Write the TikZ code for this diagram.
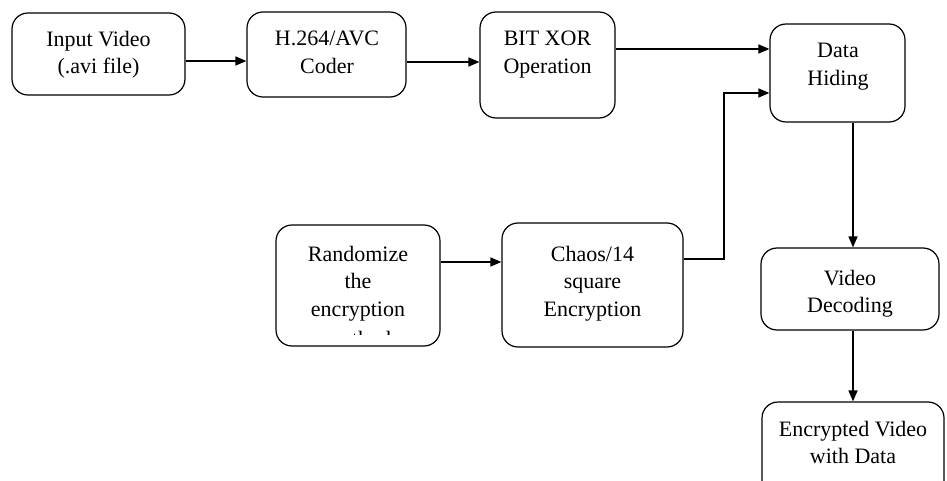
\documentclass[tikz,border=0pt]{standalone}
\usepackage{fontspec}
\setmainfont{Liberation Serif}
\usetikzlibrary{arrows.meta}
\begin{document}
\begin{tikzpicture}[x=1pt,y=-1pt,
  box/.style={draw, line width=1.2pt, rounded corners=16pt, inner sep=0pt},
  lbl/.style={anchor=north, align=center, inner sep=0pt, font=\fontsize{22}{27.5}\selectfont},
  conn/.style={line width=1.6pt, -{Triangle[length=11pt,width=9pt]}}]
\clip (0,0) rectangle (947,481);
\useasboundingbox (0,0) rectangle (947,481);
\fill[white] (0,0) rectangle (947,481);
% boxes
\node[box, minimum width=173pt, minimum height=82pt] (b1) at (98.5,54) {};
\node[box, minimum width=159pt, minimum height=85pt] (b2) at (326.5,54.5) {};
\node[box, minimum width=135pt, minimum height=106pt] (b3) at (547.5,65) {};
\node[box, minimum width=135pt, minimum height=98pt] (b4) at (837.5,73) {};
\node[box, minimum width=164pt, minimum height=121pt] (b5) at (358,285.5) {};
\node[box, minimum width=181pt, minimum height=124pt] (b6) at (592.5,285) {};
\node[box, minimum width=178pt, minimum height=82pt] (b7) at (850,289) {};
\node[box, minimum width=182pt, minimum height=98pt] (b8) at (853,451) {};
% labels
\node[lbl] (t1) at (98.5,31) {Input Video\\(.avi file)};
\node[lbl] (t2) at (327,31) {H.264/AVC\\Coder};
\node[lbl] (t3) at (547.5,31) {BIT XOR\\Operation};
\node[lbl] (t4) at (838,43) {Data\\Hiding};
\node[lbl] (t5) at (358,246) {Randomize\\the\\encryption};
\begin{scope}
  \clip (290,320) rectangle (430,334.5);
  \node[lbl] (t5b) at (358,331.5) {method};
\end{scope}
\node[lbl] (t6) at (592.5,246) {Chaos/14\\square\\Encryption};
\node[lbl] (t7) at (850,270) {Video\\Decoding};
\node[lbl] (t8) at (853,421) {Encrypted Video\\with Data};
% connectors
\coordinate (a1) at ([yshift=-7pt]b1.east);
\draw[conn] (a1) -- (a1 -| b2.west);
\coordinate (a2) at ([yshift=-7.5pt]b2.east);
\draw[conn] (a2) -- (a2 -| b3.west);
\coordinate (a3) at ([yshift=16pt]b3.east);
\draw[conn] (a3) -- (a3 -| b4.west);
\coordinate (a5) at ([yshift=23.5pt]b5.east);
\draw[conn] (a5) -- (a5 -| b6.west);
\coordinate (a6) at ([yshift=26pt]b6.east);
\coordinate (k6) at (724,93);
\draw[conn] (a6) -| (k6) -- (k6 -| b4.west);
\coordinate (a4) at ([xshift=15.5pt]b4.south);
\draw[conn] (a4) -- (a4 |- b7.north);
\coordinate (a7) at ([xshift=3pt]b7.south);
\draw[conn] (a7) -- (a7 |- b8.north);
\end{tikzpicture}
\end{document}
